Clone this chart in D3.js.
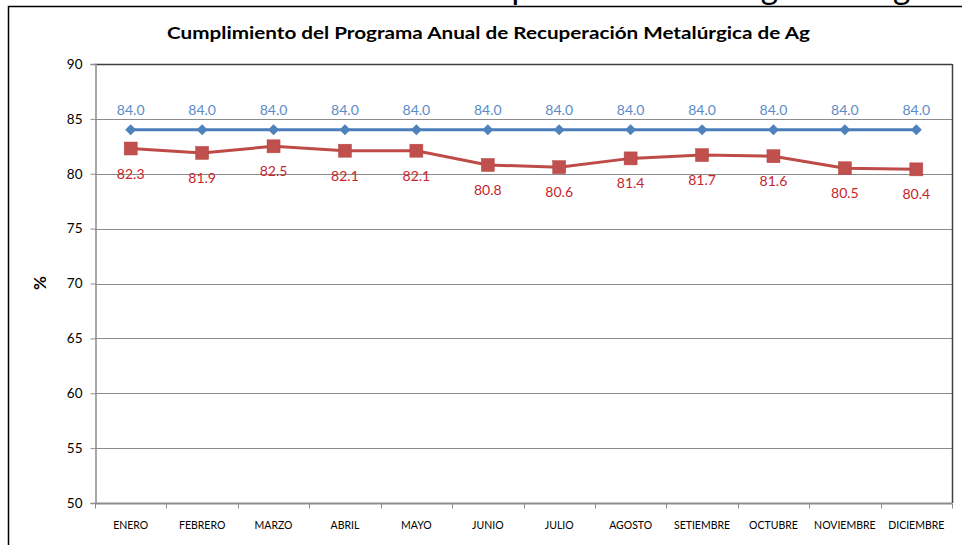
<!DOCTYPE html>
<html>
<head>
<meta charset="utf-8">
<script src="https://cdn.jsdelivr.net/npm/d3@7"></script>
<style>
  html, body { margin: 0; padding: 0; background: #fff; }
  svg { display: block; }
  text { font-family: Lato, "Open Sans", sans-serif; }
</style>
</head>
<body>
<svg id="chart" width="962" height="545"></svg>
<script>
// Monthly categories and series (%)
const months = ["ENERO", "FEBRERO", "MARZO", "ABRIL", "MAYO", "JUNIO", "JULIO",
                "AGOSTO", "SETIEMBRE", "OCTUBRE", "NOVIEMBRE", "DICIEMBRE"];
const programado = [84.0, 84.0, 84.0, 84.0, 84.0, 84.0, 84.0, 84.0, 84.0, 84.0, 84.0, 84.0];
const ejecutado = [82.3, 81.9, 82.5, 82.1, 82.1, 80.8, 80.6, 81.4, 81.7, 81.6, 80.5, 80.4];
const yTicks = [50, 55, 60, 65, 70, 75, 80, 85, 90];

const titleText = "Cumplimiento del Programa Anual de Recuperación Metalúrgica de Ag";
const yLabel = "%";

const svg = d3.select("#chart");
const W = 962, H = 545;
const plot = { left: 95, right: 952, top: 64, bottom: 503 };

// Heading line above the chart frame (only its lower part shows)
const heading = svg.append("text")
  .attr("y", -1)
  .attr("font-family", "Lato, sans-serif")
  .attr("font-size", 26)
  .attr("fill", "#000")
  .text("Recuperación Metalúrgica de Ag");
{
  const node = heading.node();
  const s = heading.text();
  const ip = s.indexOf("p");
  const ig = s.lastIndexOf("g");
  const p0 = node.getStartPositionOfChar(ip).x, p1 = node.getEndPositionOfChar(ip).x;
  const g0 = node.getStartPositionOfChar(ig).x, g1 = node.getEndPositionOfChar(ig).x;
  const cp = (p0 + p1) / 2, cg = (g0 + g1) / 2;
  const k = (902 - 521) / (cg - cp);
  const fs = 26 * k;
  heading.attr("font-size", fs).attr("x", 521 - cp * k);
}

// Chart frame
svg.append("rect")
  .attr("x", 8.5).attr("y", 6.5)
  .attr("width", W + 10).attr("height", H + 10)
  .attr("fill", "#fff").attr("stroke", "#000").attr("stroke-width", 1.5);

// Title
const title = svg.append("text")
  .attr("x", (167 + 810) / 2).attr("y", 39)
  .attr("text-anchor", "middle")
  .attr("font-weight", "bold")
  .attr("font-size", 17)
  .attr("fill", "#000")
  .text(titleText);
title.attr("textLength", 643).attr("lengthAdjust", "spacingAndGlyphs");

// Scales
const x = d3.scaleBand().domain(months).range([plot.left, plot.right]);
const y = d3.scaleLinear().domain([50, 90]).range([plot.bottom, plot.top]);
const cx = m => x(m) + x.bandwidth() / 2;

// Horizontal gridlines
svg.append("g")
  .selectAll("line")
  .data(yTicks.filter(t => t > 50 && t < 90))
  .join("line")
  .attr("x1", plot.left).attr("x2", plot.right)
  .attr("y1", d => Math.round(y(d)) + 0.5).attr("y2", d => Math.round(y(d)) + 0.5)
  .attr("stroke", "#8c8c8c").attr("stroke-width", 1);

// Plot area border (top/right)
svg.append("line")
  .attr("x1", plot.left).attr("x2", plot.right)
  .attr("y1", plot.top + 0.5).attr("y2", plot.top + 0.5)
  .attr("stroke", "#404040").attr("stroke-width", 1.5);
svg.append("line")
  .attr("x1", plot.right + 0.5).attr("x2", plot.right + 0.5)
  .attr("y1", plot.top).attr("y2", plot.bottom)
  .attr("stroke", "#404040").attr("stroke-width", 1.5);

// Y axis
const yAxis = svg.append("g")
  .attr("transform", `translate(${plot.left + 0.5},0)`)
  .call(d3.axisLeft(y).tickValues(yTicks).tickSize(5).tickPadding(8).tickFormat(d3.format("d")));
yAxis.select(".domain").attr("stroke", "#8c8c8c").attr("stroke-width", 1.5);
yAxis.selectAll(".tick line").attr("stroke", "#8c8c8c");
yAxis.selectAll(".tick text")
  .attr("font-family", "Lato, sans-serif")
  .attr("font-size", 13.5)
  .attr("fill", "#000");

// X axis: ticks sit between categories
const xAxisG = svg.append("g").attr("transform", `translate(0,${plot.bottom + 0.5})`);
xAxisG.append("line")
  .attr("x1", plot.left).attr("x2", plot.right)
  .attr("stroke", "#8c8c8c").attr("stroke-width", 2);
xAxisG.selectAll("line.tk")
  .data(months.concat(["__end"]))
  .join("line")
  .attr("class", "tk")
  .attr("x1", (d, i) => i < months.length ? Math.round(x(d)) + 0.5 : plot.right + 0.5)
  .attr("x2", (d, i) => i < months.length ? Math.round(x(d)) + 0.5 : plot.right + 0.5)
  .attr("y1", 0).attr("y2", 5)
  .attr("stroke", "#8c8c8c");
xAxisG.selectAll("text")
  .data(months)
  .join("text")
  .attr("x", d => cx(d))
  .attr("y", 25)
  .attr("text-anchor", "middle")
  .attr("font-family", "Lato, sans-serif")
  .attr("font-size", 10.5)
  .attr("fill", "#000")
  .text(d => d);

// Y axis title
svg.append("text")
  .attr("transform", `translate(46,283) rotate(-90)`)
  .attr("text-anchor", "middle")
  .attr("font-weight", "bold")
  .attr("font-size", 17)
  .attr("fill", "#000")
  .text(yLabel);

const line = d3.line().x((d, i) => cx(months[i])).y(d => y(d));

// Ejecutado series (red, squares)
svg.append("path")
  .datum(ejecutado)
  .attr("d", line)
  .attr("fill", "none")
  .attr("stroke", "#BE4B48")
  .attr("stroke-width", 3);
svg.append("g").selectAll("rect")
  .data(ejecutado)
  .join("rect")
  .attr("x", (d, i) => cx(months[i]) - 6.5)
  .attr("y", d => y(d) - 6.5)
  .attr("width", 13).attr("height", 13)
  .attr("fill", "#C0504D").attr("stroke", "#B84542").attr("stroke-width", 0.5);

// Programado series (blue, diamonds)
svg.append("path")
  .datum(programado)
  .attr("d", line)
  .attr("fill", "none")
  .attr("stroke", "#4A7EBB")
  .attr("stroke-width", 3);
svg.append("g").selectAll("path")
  .data(programado)
  .join("path")
  .attr("transform", (d, i) => `translate(${cx(months[i])},${y(d)})`)
  .attr("d", "M0,-5.5L5.5,0L0,5.5L-5.5,0Z")
  .attr("fill", "#4F81BD");

// Data labels
svg.append("g").selectAll("text")
  .data(programado)
  .join("text")
  .attr("x", (d, i) => cx(months[i]))
  .attr("y", d => y(d) - 15)
  .attr("text-anchor", "middle")
  .attr("font-family", "Lato, sans-serif")
  .attr("font-size", 14)
  .attr("fill", "#5B8BC9")
  .text(d => d.toFixed(1));
svg.append("g").selectAll("text")
  .data(ejecutado)
  .join("text")
  .attr("x", (d, i) => cx(months[i]))
  .attr("y", d => y(d) + 30)
  .attr("text-anchor", "middle")
  .attr("font-family", "Lato, sans-serif")
  .attr("font-size", 14)
  .attr("fill", "#C8252B")
  .text(d => d.toFixed(1));
</script>
</body>
</html>
